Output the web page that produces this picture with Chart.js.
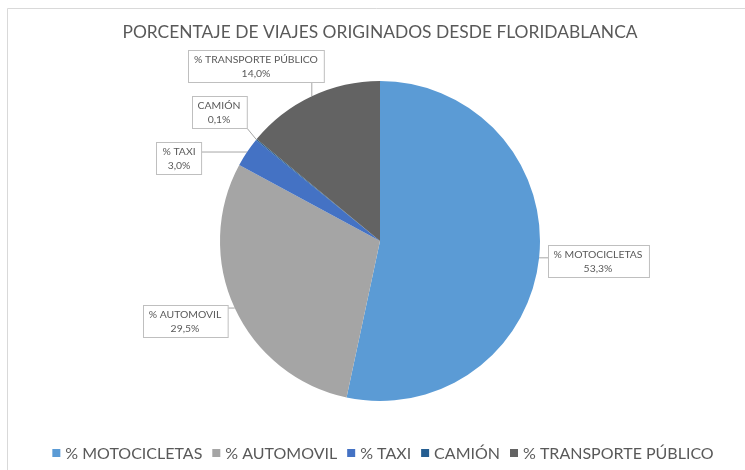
<!DOCTYPE html>
<html>
<head>
<meta charset="utf-8">
<script src="https://cdn.jsdelivr.net/npm/chart.js@4.4.1/dist/chart.umd.min.js"></script>
<style>
    body { margin: 0; background: #fff; }
</style>
</head>
<body>
<canvas id="viajes" width="745" height="470"></canvas>
<script>
    var titulo = 'PORCENTAJE DE VIAJES ORIGINADOS DESDE FLORIDABLANCA';
    var categorias = ['% MOTOCICLETAS', '% AUTOMOVIL', '% TAXI', 'CAMIÓN', '% TRANSPORTE PÚBLICO'];
    var porcentajes = [53.3, 29.5, 3.0, 0.1, 14.0];
    var colores = ['#5B9BD5', '#A5A5A5', '#4472C4', '#255E91', '#636363'];

    // callout boxes, offset from the centre of the pie
    var posEtiquetas = [[218, 20], [-195, 80], [-201, -83], [-161, -129], [-124, -175]];

    var fuente = 'Lato, "Noto Sans", sans-serif';
    var gris = '#595959';

    function formato(v) {
        return v.toFixed(1).replace('.', ',') + '%';
    }

    // white page and the light frame around the chart
    var marco = {
        id: 'marco',
        beforeDraw: function (chart) {
            var ctx = chart.ctx;
            ctx.save();
            ctx.fillStyle = '#fff';
            ctx.fillRect(0, 0, chart.width, chart.height);
            ctx.strokeStyle = '#d9d9d9';
            ctx.lineWidth = 1;
            ctx.beginPath();
            ctx.moveTo(7.5, chart.height);
            ctx.lineTo(7.5, 8.5);
            ctx.lineTo(chart.width, 8.5);
            ctx.stroke();
            ctx.restore();
        }
    };

    var encabezado = {
        id: 'encabezado',
        afterDraw: function (chart) {
            var ctx = chart.ctx;
            var area = chart.chartArea;
            ctx.save();
            ctx.fillStyle = gris;
            ctx.font = '17.4px ' + fuente;
            ctx.textAlign = 'center';
            ctx.textBaseline = 'middle';
            ctx.fillText(titulo, (area.left + area.right) / 2, 32);
            ctx.restore();
        }
    };

    // boxed data labels with leader lines to each slice
    var etiquetas = {
        id: 'etiquetas',
        afterDatasetsDraw: function (chart) {
            var ctx = chart.ctx;
            var arcos = chart.getDatasetMeta(0).data;
            ctx.save();
            ctx.font = '10.4px ' + fuente;
            ctx.textAlign = 'center';
            ctx.textBaseline = 'middle';
            arcos.forEach(function (arco, i) {
                var p = arco.getProps(['x', 'y', 'startAngle', 'endAngle', 'outerRadius'], true);
                var medio = (p.startAngle + p.endAngle) / 2;
                var ax = p.x + Math.cos(medio) * p.outerRadius;
                var ay = p.y + Math.sin(medio) * p.outerRadius;
                var cx = p.x + posEtiquetas[i][0];
                var cy = p.y + posEtiquetas[i][1];
                var l1 = categorias[i], l2 = formato(porcentajes[i]);
                var w = Math.max(ctx.measureText(l1).width, ctx.measureText(l2).width) + 12;
                var h = 32;
                var x0 = Math.round(cx - w / 2) + 0.5, y0 = Math.round(cy - h / 2) + 0.5;

                // nearest point of the box to the slice edge
                var nx = Math.min(Math.max(ax, x0), x0 + w);
                var ny = Math.min(Math.max(ay, y0), y0 + h);
                ctx.strokeStyle = '#a6a6a6';
                ctx.lineWidth = 1;
                ctx.beginPath();
                ctx.moveTo(ax, ay);
                ctx.lineTo(nx, ny);
                ctx.stroke();

                ctx.fillStyle = '#fff';
                ctx.fillRect(x0, y0, w, h);
                ctx.strokeStyle = '#bfbfbf';
                ctx.strokeRect(x0, y0, w, h);
                ctx.fillStyle = gris;
                ctx.fillText(l1, cx, cy - 6.5);
                ctx.fillText(l2, cx, cy + 7.5);
            });
            ctx.restore();
        }
    };

    var leyenda = {
        id: 'leyenda',
        afterDraw: function (chart) {
            var ctx = chart.ctx;
            var caja = 8, sep = 5, hueco = 10;
            ctx.save();
            ctx.font = '16px ' + fuente;
            ctx.textBaseline = 'middle';
            var anchos = categorias.map(function (c) { return ctx.measureText(c).width; });
            var total = 0;
            anchos.forEach(function (a) { total += caja + sep + a; });
            total += hueco * (categorias.length - 1);
            var x = 383 - total / 2, y = 453;
            categorias.forEach(function (c, i) {
                ctx.fillStyle = colores[i];
                ctx.fillRect(x, y - caja / 2, caja, caja);
                ctx.fillStyle = gris;
                ctx.fillText(c, x + caja + sep, y + 1);
                x += caja + sep + anchos[i] + hueco;
            });
            ctx.restore();
        }
    };

    new Chart(document.getElementById('viajes'), {
        type: 'pie',
        data: {
            labels: categorias,
            datasets: [{
                data: porcentajes,
                backgroundColor: colores,
                borderWidth: 0
            }]
        },
        options: {
            responsive: false,
            animation: false,
            layout: { padding: { top: 81, bottom: 69, left: 220, right: 205 } },
            plugins: {
                legend: { display: false },
                title: { display: false },
                tooltip: { enabled: false }
            }
        },
        plugins: [marco, etiquetas, encabezado, leyenda]
    });
</script>
</body>
</html>
